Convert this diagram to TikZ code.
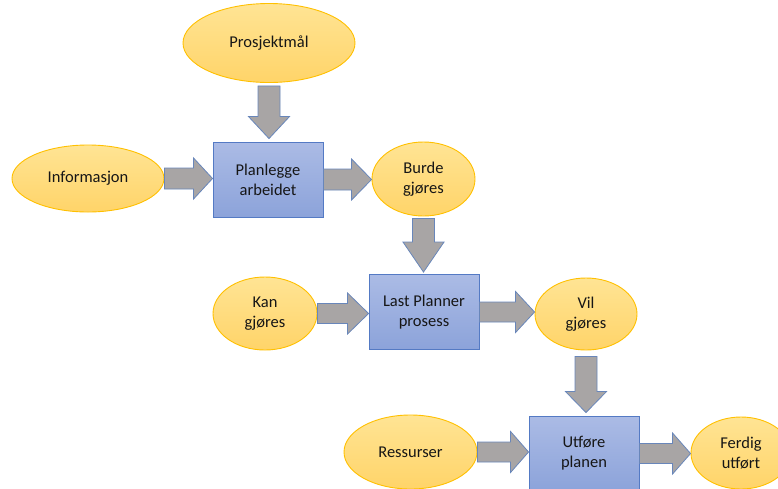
\documentclass[tikz,border=0pt]{standalone}
\usepackage{fontspec}
\setmainfont{Carlito}
\usetikzlibrary{shapes.geometric,calc}

\definecolor{goalfill}{RGB}{255,228,148}
\definecolor{goalfilldark}{RGB}{255,212,105}
\definecolor{goalline}{RGB}{255,192,0}
\definecolor{stepfill}{RGB}{171,187,229}
\definecolor{stepfilldark}{RGB}{140,163,218}
\definecolor{stepline}{RGB}{84,122,196}
\definecolor{arrowfill}{RGB}{168,165,165}
\definecolor{arrowline}{RGB}{104,134,186}
\definecolor{labeltext}{RGB}{22,22,22}

\tikzset{
  every node/.style={font=\fontsize{16.5}{20}\selectfont, text=labeltext, align=center, inner sep=0pt},
  input/.style={ellipse, draw=goalline, line width=0.9pt,
                top color=goalfill, bottom color=goalfilldark},
  stepbox/.style={rectangle, draw=stepline, line width=0.9pt,
                  top color=stepfill, bottom color=stepfilldark,
                  minimum width=110pt, minimum height=75pt},
  blockarrow/.style={draw=arrowline, fill=arrowfill, line width=0.8pt, line join=miter},
}

% Block arrow from #2 to #3; #1 = head length, #4 = shaft half width
\newcommand{\blockarrow}[4][20]{%
  \draw[blockarrow] let \p1=(#2), \p2=(#3),
      \n1={atan2(\y2-\y1,\x2-\x1)}, \n2={veclen(\x2-\x1,\y2-\y1)} in
    [shift={(\p1)}, rotate=\n1]
    (0pt,-#4) -- (\n2-#1pt,-#4) -- (\n2-#1pt,-20.5pt) -- (\n2,0pt)
    -- (\n2-#1pt,20.5pt) -- (\n2-#1pt,#4) -- (0pt,#4) -- cycle;}

\begin{document}
\begin{tikzpicture}[x=1pt,y=-1pt]
  \clip (0,0) rectangle (778,488);
  \useasboundingbox (0,0) rectangle (778,488);

  % inputs and outcomes
  \node[input, minimum width=172pt, minimum height=79pt] (goal) at (269,43) {Prosjektmål};
  \node[input, minimum width=152pt, minimum height=67pt] (info) at (88,178.5) {Informasjon};
  \node[input, minimum width=103pt, minimum height=74pt] (should) at (423.5,179) {Burde\\gjøres};
  \node[input, minimum width=104pt, minimum height=73pt] (can) at (265,313.5) {Kan\\gjøres};
  \node[input, minimum width=102pt, minimum height=72pt] (will) at (586,314) {Vil\\gjøres};
  \node[input, minimum width=133pt, minimum height=74pt] (res) at (410.5,452) {Ressurser};
  \node[input, minimum width=100pt, minimum height=72pt] (done) at (741,453) {Ferdig\\utført};

  % process steps
  \node[stepbox] (plan) at (268,179.5) {Planlegge\\arbeidet};
  \node[stepbox] (lps) at (424,312) {Last Planner\\prosess};
  \node[stepbox] (exec) at (584,453.5) {Utføre\\planen};

  % connectors (all kept axis-aligned)
  \coordinate (goalout) at ($(goal.south)+(0,3)$);
  \coordinate (planin) at ($(goalout |- plan.north)+(0,-3)$);
  \blockarrow[22]{goalout}{planin}{11pt}
  \coordinate (planleft) at (info.east -| plan.west);
  \blockarrow[19]{info.east}{planleft}{10.5pt}
  \coordinate (shouldleft) at (plan.east -| should.west);
  \blockarrow[20]{plan.east}{shouldleft}{10.5pt}

  \coordinate (shouldout) at ($(should.south)+(0,2)$);
  \coordinate (lpsin) at ($(shouldout |- lps.north)+(0,-2)$);
  \blockarrow[30]{shouldout}{lpsin}{11pt}
  \coordinate (lpsleft) at (can.east -| lps.west);
  \blockarrow[21]{can.east}{lpsleft}{10pt}
  \coordinate (willleft) at (lps.east -| will.west);
  \blockarrow[19]{lps.east}{willleft}{10pt}

  \coordinate (willout) at ($(will.south)+(0,6)$);
  \coordinate (execin) at ($(willout |- exec.north)+(0,-3)$);
  \blockarrow[21]{willout}{execin}{11pt}
  \coordinate (execleft) at (res.east -| exec.west);
  \blockarrow[18]{res.east}{execleft}{10pt}
  \coordinate (doneleft) at (exec.east -| done.west);
  \blockarrow[18]{exec.east}{doneleft}{10pt}
\end{tikzpicture}
\end{document}
